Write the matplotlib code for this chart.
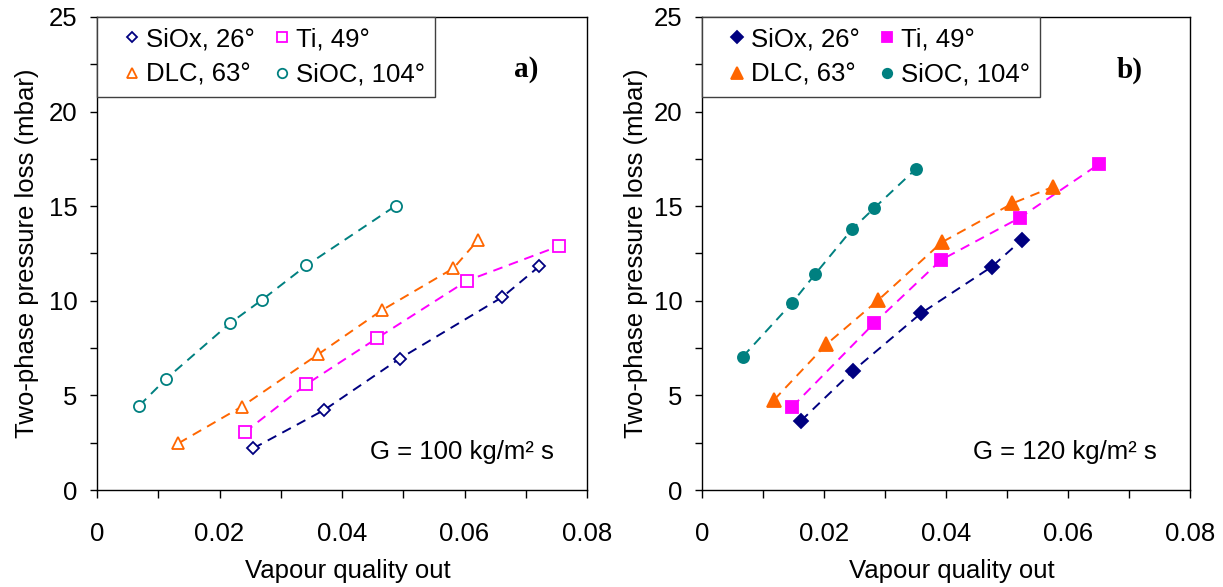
#!/usr/bin/env python3
"""Two-phase pressure loss vs. vapour quality out, two mass fluxes side by side."""
import matplotlib
matplotlib.use('Agg')
import matplotlib.pyplot as plt
from matplotlib.ticker import MultipleLocator, FixedLocator

# ---- data ----
labels = ['SiOx, 26°', 'Ti, 49°', 'DLC, 63°', 'SiOC, 104°']
xticks = [0, 0.02, 0.04, 0.06, 0.08]
xtick_labels = ['0', '0.02', '0.04', '0.06', '0.08']

# a) G = 100 kg/m2 s
a_siox_x = [0.0255, 0.0371, 0.0494, 0.0662, 0.0722]
a_siox_y = [2.20, 4.23, 6.94, 10.20, 11.82]
a_ti_x = [0.0241, 0.0342, 0.0457, 0.0604, 0.0755]
a_ti_y = [3.05, 5.59, 8.02, 11.06, 12.90]
a_dlc_x = [0.0133, 0.0236, 0.0361, 0.0465, 0.0582, 0.0622]
a_dlc_y = [2.47, 4.40, 7.17, 9.50, 11.72, 13.21]
a_sioc_x = [0.0069, 0.0113, 0.0217, 0.0269, 0.0342, 0.0488]
a_sioc_y = [4.46, 5.88, 8.81, 10.04, 11.87, 15.03]

# b) G = 120 kg/m2 s
b_siox_x = [0.0162, 0.0248, 0.0359, 0.0475, 0.0524]
b_siox_y = [3.65, 6.31, 9.34, 11.80, 13.21]
b_ti_x = [0.0148, 0.0282, 0.0392, 0.0521, 0.0651]
b_ti_y = [4.40, 8.81, 12.16, 14.39, 17.23]
b_dlc_x = [0.0118, 0.0204, 0.0289, 0.0393, 0.0509, 0.0576]
b_dlc_y = [4.76, 7.70, 10.04, 13.09, 15.15, 16.03]
b_sioc_x = [0.0067, 0.0148, 0.0186, 0.0246, 0.0282, 0.0350]
b_sioc_y = [7.05, 9.90, 11.43, 13.78, 14.89, 16.95]

colors = ['#000080', '#FF00FF', '#FF6600', '#008080']
markers = ['D', 's', '^', 'o']
sizes_open = [6.5, 8, 9, 8]
sizes_filled = [7.5, 8.5, 10, 8]

FS = 18.5

plt.rcParams.update({
    'font.family': ['Liberation Sans', 'DejaVu Sans'],
    'font.size': FS,
    'axes.linewidth': 1.0,
    'axes.edgecolor': 'black',
    'xtick.direction': 'out',
    'ytick.direction': 'out',
})

fig = plt.figure(figsize=(12.23, 5.87), dpi=100)
ax_a = fig.add_axes([97 / 1223, 1 - 490 / 587, 490 / 1223, 473 / 587])
ax_b = fig.add_axes([702 / 1223, 1 - 490 / 587, 488 / 1223, 473 / 587])

panels = [
    (ax_a, [(a_siox_x, a_siox_y), (a_ti_x, a_ti_y), (a_dlc_x, a_dlc_y), (a_sioc_x, a_sioc_y)],
     False, 'a)', 'G = 100 kg/m² s', -0.143),
    (ax_b, [(b_siox_x, b_siox_y), (b_ti_x, b_ti_y), (b_dlc_x, b_dlc_y), (b_sioc_x, b_sioc_y)],
     True, 'b)', 'G = 120 kg/m² s', -0.135),
]

for ax, series, filled, tag, gtxt, ylab_x in panels:
    handles = []
    sizes = sizes_filled if filled else sizes_open
    for (x, y), c, m, ms, lab in zip(series, colors, markers, sizes, labels):
        ax.plot(x, y, linestyle=(0, (5, 3.5)), color=c, linewidth=1.4, zorder=2)
        h, = ax.plot(x, y, linestyle='none', marker=m, markersize=ms,
                     markerfacecolor=c if filled else 'white', markeredgecolor=c,
                     markeredgewidth=1.3, label=lab, zorder=3)
        handles.append(h)
    ax.set_xlim(0, 0.08)
    ax.set_ylim(0, 25)
    ax.xaxis.set_major_locator(FixedLocator(xticks))
    ax.set_xticklabels(xtick_labels)
    ax.xaxis.set_minor_locator(MultipleLocator(0.01))
    ax.yaxis.set_major_locator(MultipleLocator(5))
    ax.yaxis.set_minor_locator(MultipleLocator(2.5))
    ax.tick_params(axis='x', which='both', length=6, width=1, labelsize=FS, pad=17)
    ax.tick_params(axis='y', which='both', length=5, width=1, labelsize=FS, pad=9)
    ax.set_xlabel('Vapour quality out', fontsize=FS, va='center')
    ax.xaxis.set_label_coords(0.512, -0.171)
    ax.set_ylabel('Two-phase pressure loss (mbar)', fontsize=FS, va='center')
    ax.yaxis.set_label_coords(ylab_x, 0.5)
    # legend order: row-wise SiOx, Ti / DLC, SiOC
    order = [0, 2, 1, 3]
    leg = ax.legend([handles[i] for i in order], [labels[i] for i in order], ncol=2,
                    loc='upper left', bbox_to_anchor=(0, 1), borderaxespad=0,
                    fancybox=False, framealpha=1, edgecolor='#404040', fontsize=FS,
                    handlelength=1.9, handletextpad=-0.4, columnspacing=0.1,
                    borderpad=0.4, labelspacing=0.45, markerscale=0.85)
    leg.get_frame().set_linewidth(1.0)
    ax.text(0.876, 0.888, tag, transform=ax.transAxes, ha='center', va='center',
            fontsize=21, fontweight='bold', family=['Liberation Serif', 'DejaVu Serif'])
    ax.text(0.932, 0.08, gtxt, transform=ax.transAxes, ha='right', va='center', fontsize=FS)

fig.savefig('out.png', dpi=100)
